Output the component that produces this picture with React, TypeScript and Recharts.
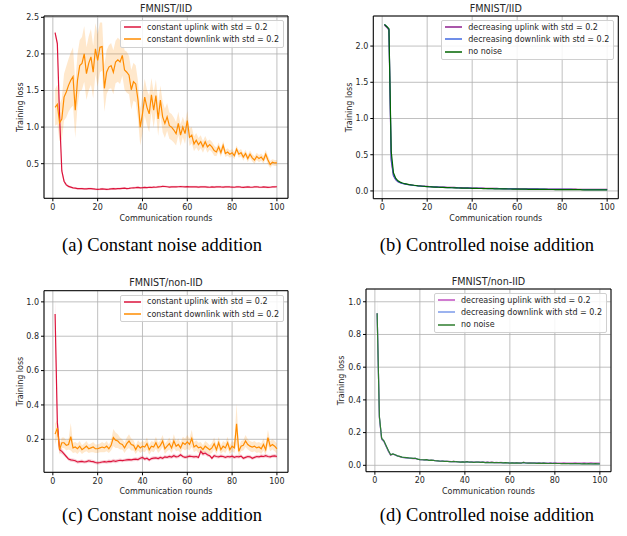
import React from 'react';
import {
  ComposedChart,
  Line,
  Area,
  XAxis,
  YAxis,
  CartesianGrid,
  ReferenceArea,
  Label,
} from 'recharts';

const FONT = '"DejaVu Sans", sans-serif';
const TEXT = '#262626';

const rounds = Array.from({ length: 100 }, (_, i) => i + 1);
const xTicks = [0, 20, 40, 60, 80, 100];

// (a) FMNIST/IID, constant noise
const iidConstUp = [
  2.29, 2.14, 1.15, 0.4, 0.26, 0.21, 0.19, 0.18, 0.17, 0.165,
  0.16, 0.158, 0.16, 0.155, 0.157, 0.16, 0.158, 0.155, 0.152, 0.15,
  0.152, 0.155, 0.153, 0.15, 0.152, 0.156, 0.158, 0.155, 0.16, 0.158,
  0.162, 0.165, 0.16, 0.163, 0.168, 0.17, 0.172, 0.175, 0.17, 0.172,
  0.175, 0.172, 0.178, 0.175, 0.18, 0.178, 0.182, 0.185, 0.19, 0.188,
  0.185, 0.18, 0.183, 0.185, 0.182, 0.185, 0.188, 0.185, 0.183, 0.186,
  0.184, 0.182, 0.185, 0.183, 0.18, 0.182, 0.184, 0.182, 0.18, 0.178,
  0.182, 0.18, 0.183, 0.185, 0.182, 0.18, 0.183, 0.185, 0.182, 0.18,
  0.178, 0.182, 0.185, 0.18, 0.176, 0.18, 0.183, 0.18, 0.178, 0.182,
  0.185, 0.18, 0.178, 0.182, 0.18, 0.176, 0.178, 0.182, 0.183, 0.185,
];
const iidConstUpStd = [
  0.02, 0.05, 0.06, 0.04, 0.03, 0.02, 0.02, 0.015, 0.015, 0.015,
  0.015, 0.014, 0.015, 0.014, 0.015, 0.016, 0.015, 0.014, 0.015, 0.014,
  0.014, 0.015, 0.014, 0.015, 0.014, 0.015, 0.016, 0.015, 0.014, 0.015,
  0.015, 0.016, 0.015, 0.014, 0.015, 0.016, 0.015, 0.016, 0.015, 0.014,
  0.015, 0.014, 0.015, 0.016, 0.015, 0.014, 0.015, 0.016, 0.017, 0.016,
  0.015, 0.014, 0.015, 0.014, 0.015, 0.014, 0.015, 0.016, 0.015, 0.014,
  0.014, 0.015, 0.014, 0.015, 0.014, 0.015, 0.014, 0.015, 0.014, 0.015,
  0.015, 0.014, 0.015, 0.014, 0.015, 0.014, 0.015, 0.014, 0.015, 0.014,
  0.014, 0.015, 0.014, 0.015, 0.014, 0.015, 0.014, 0.015, 0.014, 0.015,
  0.015, 0.014, 0.015, 0.014, 0.015, 0.014, 0.015, 0.014, 0.015, 0.014,
];
const iidConstDown = [
  1.27, 1.31, 1.06, 1.11, 1.41, 1.48, 1.57, 1.64, 1.69, 1.23,
  1.64, 1.84, 1.87, 2.0, 1.73, 1.87, 1.96, 1.75, 2.07, 1.91,
  2.09, 2.1, 1.53, 1.75, 1.82, 1.84, 1.75, 1.89, 1.92, 1.89,
  1.98, 1.78, 1.75, 1.71, 1.51, 1.62, 1.59, 1.37, 1.0, 1.18,
  1.41, 1.27, 1.18, 1.44, 1.23, 1.43, 1.11, 1.37, 1.14, 1.05,
  1.14, 1.02, 1.0, 0.96, 0.91, 1.05, 0.89, 1.0, 0.91, 1.09,
  0.86, 0.89, 0.77, 0.82, 0.76, 0.8, 0.73, 0.8, 0.73, 0.76,
  0.73, 0.68, 0.66, 0.73, 0.65, 0.75, 0.64, 0.66, 0.63, 0.65,
  0.61, 0.7, 0.63, 0.65, 0.59, 0.64, 0.57, 0.63, 0.58, 0.55,
  0.6, 0.57, 0.59, 0.55, 0.63, 0.55, 0.49, 0.52, 0.51, 0.51,
];
const iidConstDownStd = [
  0.25, 0.27, 0.25, 0.28, 0.32, 0.35, 0.36, 0.38, 0.4, 0.38,
  0.36, 0.35, 0.36, 0.38, 0.36, 0.37, 0.38, 0.36, 0.35, 0.36,
  0.34, 0.33, 0.32, 0.3, 0.3, 0.31, 0.3, 0.29, 0.3, 0.3,
  0.28, 0.27, 0.28, 0.26, 0.27, 0.26, 0.25, 0.26, 0.25, 0.26,
  0.25, 0.24, 0.25, 0.23, 0.24, 0.22, 0.23, 0.2, 0.21, 0.2,
  0.19, 0.18, 0.18, 0.17, 0.16, 0.16, 0.15, 0.14, 0.14, 0.13,
  0.12, 0.11, 0.1, 0.1, 0.09, 0.09, 0.08, 0.08, 0.08, 0.07,
  0.07, 0.07, 0.06, 0.06, 0.06, 0.06, 0.05, 0.05, 0.05, 0.05,
  0.05, 0.05, 0.05, 0.05, 0.05, 0.05, 0.05, 0.05, 0.05, 0.05,
  0.05, 0.05, 0.05, 0.05, 0.06, 0.06, 0.05, 0.04, 0.04, 0.04,
];

// (b) FMNIST/IID, controlled noise
const iidDecUp = [
  2.29, 2.26, 2.22, 0.42, 0.21, 0.155, 0.128, 0.113, 0.103, 0.096,
  0.091, 0.086, 0.082, 0.078, 0.075, 0.072, 0.069, 0.067, 0.065, 0.063,
  0.061, 0.059, 0.058, 0.057, 0.055, 0.054, 0.053, 0.052, 0.051, 0.05,
  0.049, 0.048, 0.047, 0.046, 0.045, 0.044, 0.043, 0.043, 0.042, 0.041,
  0.04, 0.04, 0.039, 0.038, 0.038, 0.037, 0.037, 0.036, 0.036, 0.035,
  0.035, 0.034, 0.034, 0.033, 0.033, 0.032, 0.032, 0.032, 0.031, 0.031,
  0.03, 0.03, 0.03, 0.029, 0.029, 0.029, 0.028, 0.028, 0.028, 0.027,
  0.027, 0.027, 0.027, 0.026, 0.026, 0.026, 0.026, 0.025, 0.025, 0.025,
  0.025, 0.024, 0.024, 0.024, 0.024, 0.024, 0.023, 0.023, 0.023, 0.023,
  0.023, 0.022, 0.022, 0.022, 0.022, 0.022, 0.022, 0.021, 0.021, 0.021,
];
const iidDecDown = [
  2.3, 2.27, 2.23, 0.46, 0.22, 0.16, 0.13, 0.115, 0.105, 0.097,
  0.091, 0.086, 0.081, 0.077, 0.074, 0.07, 0.067, 0.064, 0.062, 0.06,
  0.058, 0.056, 0.055, 0.053, 0.052, 0.051, 0.05, 0.048, 0.047, 0.046,
  0.045, 0.044, 0.043, 0.042, 0.041, 0.04, 0.04, 0.039, 0.038, 0.037,
  0.037, 0.036, 0.035, 0.035, 0.034, 0.034, 0.033, 0.033, 0.032, 0.032,
  0.031, 0.031, 0.03, 0.03, 0.029, 0.029, 0.029, 0.028, 0.028, 0.027,
  0.027, 0.027, 0.026, 0.026, 0.026, 0.025, 0.025, 0.025, 0.024, 0.024,
  0.024, 0.024, 0.023, 0.023, 0.023, 0.022, 0.022, 0.022, 0.022, 0.021,
  0.021, 0.021, 0.021, 0.021, 0.02, 0.02, 0.02, 0.02, 0.02, 0.019,
  0.019, 0.019, 0.019, 0.019, 0.018, 0.018, 0.018, 0.018, 0.018, 0.018,
];
const iidNoNoise = [
  2.3, 2.27, 2.24, 0.55, 0.25, 0.175, 0.14, 0.122, 0.11, 0.1,
  0.094, 0.088, 0.083, 0.079, 0.075, 0.071, 0.068, 0.065, 0.062, 0.06,
  0.058, 0.056, 0.054, 0.053, 0.051, 0.05, 0.049, 0.047, 0.046, 0.045,
  0.044, 0.043, 0.042, 0.041, 0.04, 0.039, 0.038, 0.038, 0.037, 0.036,
  0.035, 0.035, 0.034, 0.034, 0.033, 0.032, 0.032, 0.031, 0.031, 0.03,
  0.03, 0.029, 0.029, 0.028, 0.028, 0.027, 0.027, 0.026, 0.026, 0.025,
  0.025, 0.025, 0.024, 0.024, 0.023, 0.023, 0.023, 0.022, 0.022, 0.022,
  0.021, 0.021, 0.021, 0.02, 0.02, 0.02, 0.019, 0.019, 0.019, 0.019,
  0.018, 0.018, 0.018, 0.018, 0.017, 0.017, 0.017, 0.017, 0.016, 0.016,
  0.016, 0.016, 0.016, 0.015, 0.015, 0.015, 0.015, 0.015, 0.014, 0.014,
];

// (c) FMNIST/non-IID, constant noise
const nonIidConstUp = [
  0.93, 0.3, 0.14, 0.13, 0.115, 0.1, 0.085, 0.08, 0.078, 0.075,
  0.068, 0.07, 0.072, 0.068, 0.07, 0.075, 0.072, 0.07, 0.065, 0.063,
  0.065, 0.068, 0.07, 0.068, 0.072, 0.07, 0.075, 0.072, 0.075, 0.078,
  0.076, 0.078, 0.08, 0.082, 0.08, 0.083, 0.085, 0.082, 0.09, 0.095,
  0.085, 0.09, 0.08, 0.088, 0.09, 0.092, 0.088, 0.095, 0.09, 0.098,
  0.095, 0.1, 0.097, 0.105, 0.098, 0.1, 0.11, 0.1, 0.095, 0.098,
  0.102, 0.1, 0.098, 0.1, 0.095, 0.13, 0.115, 0.12, 0.11, 0.105,
  0.09, 0.105, 0.1, 0.098, 0.102, 0.1, 0.095, 0.1, 0.098, 0.102,
  0.095, 0.1, 0.098, 0.102, 0.09, 0.095, 0.1, 0.098, 0.09, 0.095,
  0.1, 0.098, 0.102, 0.1, 0.105, 0.1, 0.098, 0.102, 0.104, 0.1,
];
const nonIidConstUpStd = [
  0.09, 0.05, 0.02, 0.015, 0.012, 0.01, 0.01, 0.01, 0.01, 0.01,
  0.01, 0.009, 0.01, 0.009, 0.01, 0.011, 0.01, 0.009, 0.01, 0.009,
  0.01, 0.009, 0.01, 0.01, 0.011, 0.01, 0.012, 0.011, 0.01, 0.01,
  0.01, 0.009, 0.01, 0.01, 0.009, 0.01, 0.011, 0.01, 0.011, 0.012,
  0.01, 0.011, 0.01, 0.01, 0.011, 0.01, 0.01, 0.011, 0.01, 0.011,
  0.01, 0.011, 0.01, 0.012, 0.01, 0.01, 0.012, 0.01, 0.01, 0.01,
  0.011, 0.01, 0.01, 0.01, 0.01, 0.015, 0.012, 0.012, 0.011, 0.01,
  0.01, 0.011, 0.01, 0.01, 0.011, 0.01, 0.01, 0.01, 0.01, 0.011,
  0.01, 0.01, 0.01, 0.011, 0.01, 0.01, 0.01, 0.01, 0.01, 0.01,
  0.01, 0.01, 0.011, 0.01, 0.011, 0.01, 0.01, 0.01, 0.011, 0.01,
];
const nonIidConstDown = [
  0.23, 0.265, 0.14, 0.18, 0.18, 0.165, 0.17, 0.215, 0.15, 0.155,
  0.145, 0.16, 0.14, 0.15, 0.16, 0.145, 0.15, 0.155, 0.145, 0.145,
  0.15, 0.155, 0.15, 0.16, 0.145, 0.165, 0.21, 0.195, 0.19, 0.175,
  0.17, 0.15, 0.175, 0.19, 0.17, 0.165, 0.14, 0.165, 0.15, 0.16,
  0.155, 0.175, 0.14, 0.16, 0.155, 0.18, 0.15, 0.165, 0.19, 0.145,
  0.16, 0.175, 0.15, 0.19, 0.16, 0.17, 0.15, 0.18, 0.17, 0.185,
  0.17, 0.205, 0.155, 0.165, 0.15, 0.155, 0.14, 0.16, 0.15, 0.14,
  0.15, 0.175, 0.14, 0.18, 0.14, 0.16, 0.15, 0.18, 0.14, 0.16,
  0.15, 0.29, 0.13, 0.16, 0.165, 0.19, 0.17, 0.16, 0.155, 0.16,
  0.15, 0.155, 0.145, 0.17, 0.14, 0.21, 0.16, 0.17, 0.16, 0.145,
];
const nonIidConstDownStd = [
  0.06, 0.05, 0.03, 0.03, 0.03, 0.03, 0.03, 0.08, 0.03, 0.03,
  0.03, 0.03, 0.025, 0.025, 0.03, 0.025, 0.025, 0.03, 0.025, 0.025,
  0.025, 0.03, 0.025, 0.03, 0.025, 0.03, 0.05, 0.045, 0.04, 0.035,
  0.03, 0.03, 0.035, 0.04, 0.035, 0.03, 0.025, 0.03, 0.03, 0.03,
  0.03, 0.035, 0.03, 0.03, 0.03, 0.035, 0.03, 0.03, 0.035, 0.03,
  0.03, 0.035, 0.03, 0.04, 0.03, 0.035, 0.03, 0.035, 0.035, 0.04,
  0.035, 0.05, 0.03, 0.03, 0.03, 0.03, 0.025, 0.03, 0.03, 0.025,
  0.03, 0.035, 0.025, 0.035, 0.025, 0.03, 0.03, 0.035, 0.025, 0.03,
  0.03, 0.12, 0.03, 0.03, 0.03, 0.035, 0.03, 0.03, 0.03, 0.03,
  0.03, 0.03, 0.03, 0.035, 0.03, 0.045, 0.03, 0.03, 0.03, 0.03,
];

// (d) FMNIST/non-IID, controlled noise
const nonIidDecUp = [
  0.93, 0.29, 0.16, 0.145, 0.115, 0.085, 0.062, 0.068, 0.063, 0.057,
  0.053, 0.049, 0.047, 0.046, 0.044, 0.043, 0.041, 0.042, 0.037, 0.035,
  0.034, 0.033, 0.034, 0.03, 0.031, 0.03, 0.028, 0.027, 0.026, 0.026,
  0.025, 0.025, 0.024, 0.023, 0.024, 0.023, 0.022, 0.021, 0.022, 0.021,
  0.022, 0.02, 0.021, 0.019, 0.02, 0.02, 0.019, 0.02, 0.018, 0.019,
  0.018, 0.019, 0.017, 0.018, 0.017, 0.018, 0.017, 0.017, 0.016, 0.016,
  0.016, 0.016, 0.016, 0.016, 0.015, 0.018, 0.016, 0.015, 0.016, 0.015,
  0.015, 0.015, 0.015, 0.014, 0.015, 0.014, 0.014, 0.015, 0.014, 0.015,
  0.014, 0.014, 0.014, 0.015, 0.014, 0.014, 0.014, 0.014, 0.015, 0.014,
  0.014, 0.014, 0.015, 0.014, 0.014, 0.015, 0.014, 0.014, 0.014, 0.014,
];
const nonIidDecDown = [
  0.93, 0.295, 0.162, 0.148, 0.118, 0.088, 0.064, 0.069, 0.064, 0.058,
  0.054, 0.05, 0.047, 0.046, 0.045, 0.043, 0.042, 0.042, 0.038, 0.035,
  0.034, 0.033, 0.034, 0.03, 0.031, 0.03, 0.028, 0.027, 0.025, 0.026,
  0.024, 0.025, 0.023, 0.022, 0.023, 0.022, 0.021, 0.02, 0.021, 0.02,
  0.021, 0.019, 0.02, 0.018, 0.019, 0.019, 0.018, 0.019, 0.017, 0.018,
  0.017, 0.017, 0.016, 0.017, 0.016, 0.016, 0.015, 0.016, 0.015, 0.015,
  0.015, 0.014, 0.015, 0.014, 0.014, 0.016, 0.014, 0.013, 0.014, 0.013,
  0.013, 0.013, 0.013, 0.012, 0.013, 0.012, 0.012, 0.012, 0.012, 0.012,
  0.011, 0.011, 0.011, 0.011, 0.011, 0.011, 0.01, 0.01, 0.011, 0.01,
  0.01, 0.01, 0.01, 0.01, 0.01, 0.01, 0.009, 0.01, 0.009, 0.009,
];
const nonIidNoNoise = [
  0.93, 0.3, 0.165, 0.15, 0.12, 0.09, 0.065, 0.07, 0.065, 0.058,
  0.055, 0.05, 0.048, 0.047, 0.045, 0.044, 0.042, 0.043, 0.038, 0.035,
  0.034, 0.033, 0.035, 0.03, 0.032, 0.03, 0.028, 0.027, 0.025, 0.026,
  0.024, 0.025, 0.023, 0.022, 0.024, 0.022, 0.021, 0.02, 0.021, 0.02,
  0.022, 0.019, 0.02, 0.018, 0.019, 0.02, 0.018, 0.019, 0.017, 0.018,
  0.017, 0.018, 0.016, 0.017, 0.016, 0.017, 0.015, 0.016, 0.015, 0.014,
  0.015, 0.014, 0.015, 0.014, 0.013, 0.018, 0.014, 0.013, 0.014, 0.013,
  0.013, 0.012, 0.013, 0.012, 0.013, 0.012, 0.011, 0.012, 0.011, 0.012,
  0.011, 0.011, 0.01, 0.011, 0.01, 0.011, 0.01, 0.01, 0.011, 0.01,
  0.01, 0.009, 0.01, 0.009, 0.01, 0.009, 0.009, 0.01, 0.009, 0.009,
];
const nonIidNoNoiseStd = [
  0.09, 0.03, 0.012, 0.008, 0.006, 0.005, 0.004, 0.004, 0.004, 0.003,
  0.003, 0.003, 0.003, 0.003, 0.003, 0.003, 0.003, 0.003, 0.003, 0.003,
  0.003, 0.003, 0.003, 0.003, 0.003, 0.003, 0.003, 0.003, 0.003, 0.003,
  0.003, 0.003, 0.003, 0.003, 0.003, 0.003, 0.003, 0.003, 0.003, 0.003,
  0.003, 0.003, 0.003, 0.003, 0.003, 0.003, 0.003, 0.003, 0.003, 0.003,
  0.003, 0.003, 0.003, 0.003, 0.003, 0.003, 0.003, 0.003, 0.003, 0.003,
  0.003, 0.003, 0.003, 0.003, 0.003, 0.003, 0.003, 0.003, 0.003, 0.003,
  0.003, 0.003, 0.003, 0.003, 0.003, 0.003, 0.003, 0.003, 0.003, 0.003,
  0.003, 0.003, 0.003, 0.003, 0.003, 0.003, 0.003, 0.003, 0.003, 0.003,
  0.003, 0.003, 0.003, 0.003, 0.003, 0.003, 0.003, 0.003, 0.003, 0.003,
];

interface Series {
  key: string;
  name: string;
  color: string;
  values: number[];
  std?: number[];
  bandColor?: string;
  bandOpacity?: number;
}

interface PanelProps {
  left: number;
  top: number;
  width: number;
  height: number;
  plot: { l: number; r: number; t: number; b: number };
  yDomain: [number, number];
  yTicks: number[];
  title: string;
  titleY: number;
  xLabelY: number;
  yLabelX: number;
  series: Series[];
}

const X_H = 26;
const Y_W = 30;
const xDomain: [number, number] = [-3.95, 104.95];

function buildRows(series: Series[]) {
  return rounds.map((r, i) => {
    const row: Record<string, any> = { round: r };
    series.forEach((s) => {
      row[s.key] = s.values[i];
      if (s.std) row[s.key + 'Band'] = [s.values[i] - s.std[i], s.values[i] + s.std[i]];
    });
    return row;
  });
}

function Panel({ left, top, width, height, plot, yDomain, yTicks, title, titleY, xLabelY, yLabelX, series }: PanelProps) {
  const rows = buildRows(series);
  const tickStyle = { fontSize: 8, fill: TEXT, fontFamily: FONT };
  const labelStyle = { fontSize: 8, fill: TEXT, fontFamily: FONT };

  return (
    <div style={{ position: 'absolute', left, top, width, height }}>
      <ComposedChart
        width={width}
        height={height}
        data={rows}
        margin={{ top: plot.t, right: width - plot.r, bottom: height - plot.b - X_H, left: plot.l - Y_W }}
      >
        <CartesianGrid stroke="#b0b0b0" strokeWidth={0.8} />
        <XAxis
          type="number"
          dataKey="round"
          domain={xDomain}
          ticks={xTicks}
          allowDataOverflow
          interval={0}
          height={X_H}
          axisLine={false}
          tickLine={{ stroke: '#000' }}
          tickSize={3}
          tickMargin={3}
          tick={tickStyle}
        >
          <Label
            value="Communication rounds"
            position="insideBottom"
            offset={plot.b + X_H - (xLabelY + 3)}
            style={labelStyle}
          />
        </XAxis>
        <YAxis
          type="number"
          domain={yDomain}
          ticks={yTicks}
          allowDataOverflow
          interval={0}
          width={Y_W}
          axisLine={false}
          tickLine={{ stroke: '#000' }}
          tickSize={3}
          tickMargin={2}
          tick={tickStyle}
          tickFormatter={(v: number) => v.toFixed(1)}
        >
          <Label
            value="Training loss"
            angle={-90}
            position="insideLeft"
            offset={yLabelX - (plot.l - Y_W)}
            style={{ ...labelStyle, textAnchor: 'middle' }}
          />
        </YAxis>

        {series
          .filter((s) => s.std)
          .map((s) => (
            <Area
              key={s.key + 'Band'}
              type="linear"
              dataKey={s.key + 'Band'}
              stroke="none"
              fill={s.bandColor || s.color}
              fillOpacity={s.bandOpacity ?? 0.2}
              isAnimationActive={false}
              legendType="none"
            />
          ))}

        {series.map((s) => (
          <Line
            key={s.key}
            type="linear"
            dataKey={s.key}
            name={s.name}
            stroke={s.color}
            strokeWidth={1.2}
            dot={false}
            activeDot={false}
            isAnimationActive={false}
          />
        ))}

        <ReferenceArea
          x1={xDomain[0]}
          x2={xDomain[1]}
          y1={yDomain[0]}
          y2={yDomain[1]}
          fill="none"
          stroke="#000"
          strokeWidth={1}
          ifOverflow="visible"
        />
      </ComposedChart>

      <div
        style={{
          position: 'absolute',
          left: plot.l,
          width: plot.r - plot.l,
          top: titleY - 5,
          lineHeight: '10px',
          fontSize: 9.6,
          fontFamily: FONT,
          color: TEXT,
          textAlign: 'center',
        }}
      >
        {title}
      </div>

      <div
        style={{
          position: 'absolute',
          top: plot.t + 4,
          right: width - plot.r + 4,
          border: '1px solid #d0d0d0',
          borderRadius: 2,
          background: 'rgba(255,255,255,0.85)',
          padding: '0px 4px 1px 3px',
          fontFamily: FONT,
          fontSize: 8,
          color: TEXT,
        }}
      >
        {series.map((s) => (
          <div key={s.key} style={{ display: 'flex', alignItems: 'center', height: 12.3, whiteSpace: 'nowrap' }}>
            <svg width={17} height={6} style={{ marginRight: 6, flex: 'none', display: 'block' }}>
              <line x1={0} y1={3} x2={17} y2={3} stroke={s.color} strokeWidth={1.5} />
            </svg>
            <span>{s.name}</span>
          </div>
        ))}
      </div>
    </div>
  );
}

const captionStyle: React.CSSProperties = {
  position: 'absolute',
  width: 320,
  textAlign: 'center',
  fontFamily: '"Liberation Serif", "Times New Roman", serif',
  fontSize: 18.5,
  lineHeight: '19px',
  color: '#000',
  whiteSpace: 'nowrap',
};

export default function App() {
  return (
    <div style={{ position: 'absolute', left: 0, top: 0, width: 627, height: 536, background: '#fff' }}>
      <Panel
        left={0}
        top={0}
        width={310}
        height={230}
        plot={{ l: 44, r: 288, t: 16, b: 198.3 }}
        yDomain={[0.027, 2.518]}
        yTicks={[0.5, 1.0, 1.5, 2.0, 2.5]}
        title="FMNIST/IID"
        titleY={9}
        xLabelY={218}
        yLabelX={20}
        series={[
          { key: 'up', name: 'constant uplink with std = 0.2', color: '#dc143c', values: iidConstUp, std: iidConstUpStd, bandOpacity: 0.15 },
          { key: 'down', name: 'constant downlink with std = 0.2', color: '#ff8c00', values: iidConstDown, std: iidConstDownStd, bandOpacity: 0.2 },
        ]}
      />
      <Panel
        left={310}
        top={0}
        width={317}
        height={230}
        plot={{ l: 63.3, r: 308.3, t: 16, b: 198.7 }}
        yDomain={[-0.107, 2.415]}
        yTicks={[0, 0.5, 1.0, 1.5, 2.0]}
        title="FMNIST/IID"
        titleY={9}
        xLabelY={218}
        yLabelX={39.3}
        series={[
          { key: 'up', name: 'decreasing uplink with std = 0.2', color: '#8e1f8e', values: iidDecUp },
          { key: 'down', name: 'decreasing downlink with std = 0.2', color: '#4169e1', values: iidDecDown },
          { key: 'none', name: 'no noise', color: '#006400', values: iidNoNoise },
        ]}
      />
      <Panel
        left={0}
        top={270}
        width={310}
        height={230}
        plot={{ l: 44, r: 288, t: 20.7, b: 202.3 }}
        yDomain={[0.008, 1.065]}
        yTicks={[0.2, 0.4, 0.6, 0.8, 1.0]}
        title="FMNIST/non-IID"
        titleY={13}
        xLabelY={221}
        yLabelX={20}
        series={[
          { key: 'up', name: 'constant uplink with std = 0.2', color: '#dc143c', values: nonIidConstUp, std: nonIidConstUpStd, bandOpacity: 0.2 },
          { key: 'down', name: 'constant downlink with std = 0.2', color: '#ff8c00', values: nonIidConstDown, std: nonIidConstDownStd, bandOpacity: 0.2 },
        ]}
      />
      <Panel
        left={310}
        top={270}
        width={317}
        height={230}
        plot={{ l: 56, r: 301, t: 19, b: 201.7 }}
        yDomain={[-0.039, 1.078]}
        yTicks={[0, 0.2, 0.4, 0.6, 0.8, 1.0]}
        title="FMNIST/non-IID"
        titleY={12}
        xLabelY={221}
        yLabelX={31.3}
        series={[
          { key: 'up', name: 'decreasing uplink with std = 0.2', color: '#c04fc0', values: nonIidDecUp },
          { key: 'down', name: 'decreasing downlink with std = 0.2', color: '#7b9aea', values: nonIidDecDown },
          { key: 'none', name: 'no noise', color: '#2e7d2e', values: nonIidNoNoise, std: nonIidNoNoiseStd, bandColor: '#999999', bandOpacity: 0.3 },
        ]}
      />

      <div style={{ ...captionStyle, left: 162 - 160, top: 236 }}>(a) Constant noise addition</div>
      <div style={{ ...captionStyle, left: 487 - 160, top: 236 }}>(b) Controlled noise addition</div>
      <div style={{ ...captionStyle, left: 162 - 160, top: 506 }}>(c) Constant noise addition</div>
      <div style={{ ...captionStyle, left: 487 - 160, top: 506 }}>(d) Controlled noise addition</div>
    </div>
  );
}
